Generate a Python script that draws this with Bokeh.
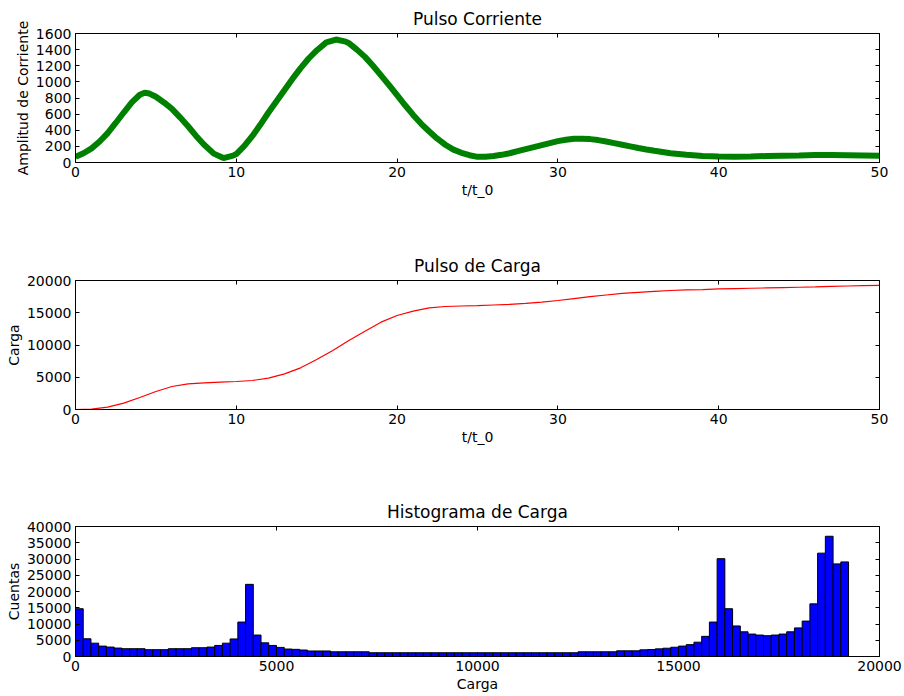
import numpy as np
from bokeh.plotting import figure
from bokeh.layouts import column
from bokeh.models import Range1d, FixedTicker, LinearAxis, CustomJSTickFormatter
from bokeh.embed import file_html
from bokeh.resources import INLINE

# ---- data ----
t_current = [0, 0.5, 1, 1.5, 2, 2.5, 3, 3.5, 4, 4.3, 4.6, 5, 5.5, 6, 6.5, 7, 7.5, 8, 8.6, 9.2, 9.8,
             10, 10.5, 11, 11.5, 12, 12.5, 13, 13.5, 14, 14.5, 15, 15.6, 16.2, 16.8, 17, 17.5, 18,
             18.5, 19, 19.5, 20, 20.5, 21, 21.5, 22, 22.5, 23, 23.5, 24, 24.5, 25, 25.5, 26, 26.5,
             27, 27.5, 28, 28.5, 29, 29.5, 30, 30.5, 31, 31.5, 32, 32.5, 33, 33.5, 34, 34.5, 35,
             35.5, 36, 36.5, 37, 38, 39, 40, 41, 42, 43, 44, 45, 46, 47, 48, 49, 50]
current = [70, 115, 175, 260, 365, 490, 620, 745, 840, 865, 855, 815, 745, 665, 560, 450, 330, 220, 110, 55, 85,
           105, 205, 330, 470, 620, 760, 900, 1040, 1170, 1290, 1390, 1490, 1525, 1500, 1480, 1400, 1310,
           1200, 1080, 960, 835, 710, 590, 480, 385, 295, 220, 160, 120, 90, 70, 72, 80, 95,
           115, 140, 165, 190, 215, 240, 265, 282, 295, 296, 290, 278, 260, 240, 220, 200, 180,
           162, 145, 130, 115, 95, 80, 75, 72, 75, 80, 85, 88, 92, 92, 90, 88, 85]

t_charge = [0, 1, 2, 3, 4, 5, 6, 7, 8, 9, 10, 11, 12, 13, 14, 15, 16, 17, 18, 19, 20, 21, 22, 23, 24, 25,
            26, 27, 28, 29, 30, 31, 32, 33, 34, 35, 36, 37, 38, 39, 40, 41, 42, 43, 44, 45, 46, 47, 48, 49, 50]
charge = [0, 50, 360, 980, 1860, 2790, 3570, 3980, 4130, 4240, 4340, 4500, 4860, 5530, 6460, 7750, 9150,
          10700, 12140, 13540, 14570, 15250, 15760, 15970, 16050, 16100, 16200, 16300, 16450, 16650, 16900,
          17200, 17500, 17750, 18000, 18150, 18300, 18450, 18550, 18600, 18700, 18750, 18800, 18850, 18900,
          18950, 19000, 19100, 19150, 19200, 19230]

hist_counts = [14700, 5450, 4100, 3200, 2900, 2600, 2400, 2400, 2400, 2100,
               2100, 2100, 2400, 2400, 2400, 2700, 2700, 2900, 3400, 4100,
               5400, 10600, 22200, 6600, 4200, 3400, 2800, 2300, 2200, 2000,
               1700, 1700, 1700, 1450, 1450, 1450, 1450, 1450, 1150, 1150,
               1150, 1150, 1150, 1150, 1150, 1150, 1150, 1150, 1150, 1150,
               1150, 1150, 1150, 1150, 1150, 1150, 1150, 1150, 1150, 1150,
               1150, 1150, 1150, 1150, 1150, 1450, 1450, 1450, 1450, 1450,
               1750, 1750, 1750, 2050, 2150, 2350, 2550, 2850, 3200, 3650,
               4400, 6200, 10600, 30100, 14700, 9400, 7600, 6900, 6600, 6400,
               6600, 6900, 7600, 8800, 10900, 16200, 31800, 37000, 28500, 29100]
hist_min, hist_max = 0.0, 19230.0

x_ticks_t = [0, 10, 20, 30, 40, 50]
y_ticks_cur = [0, 200, 400, 600, 800, 1000, 1200, 1400, 1600]
y_ticks_chg = [0, 5000, 10000, 15000, 20000]
x_ticks_hist = [0, 5000, 10000, 15000, 20000]
y_ticks_hist = [0, 5000, 10000, 15000, 20000, 25000, 30000, 35000, 40000]

FONT = "DejaVu Sans"


def make_fig(height, top, bottom, title, xr, yr):
    p = figure(width=904, height=height, output_backend="svg", toolbar_location=None,
               x_range=Range1d(*xr), y_range=Range1d(*yr),
               min_border_left=75, min_border_right=25, min_border_top=top,
               min_border_bottom=bottom, title=title)
    p.background_fill_color = "white"
    p.border_fill_color = "white"
    p.outline_line_color = "black"
    p.outline_line_alpha = 1
    p.outline_line_width = 1
    p.xgrid.grid_line_color = None
    p.ygrid.grid_line_color = None
    p.title.text_font = FONT
    p.title.text_font_size = "17px"
    p.title.text_font_style = "normal"
    p.title.align = "center"
    p.title.text_color = "black"
    return p


def style_axes(p, xticks, yticks, xlabel, ylabel):
    for ax, ticks, lab in ((p.xaxis[0], xticks, xlabel), (p.yaxis[0], yticks, ylabel)):
        ax.ticker = FixedTicker(ticks=ticks)
        ax.major_tick_in = 4
        ax.major_tick_out = 0
        ax.major_tick_line_color = "black"
        ax.minor_tick_line_color = None
        ax.axis_line_color = "black"
        ax.major_label_text_font = FONT
        ax.major_label_text_font_size = "14px"
        ax.major_label_text_color = "black"
        ax.major_label_standoff = 4
        ax.axis_label = lab
        ax.axis_label_text_font = FONT
        ax.axis_label_text_font_size = "14px"
        ax.axis_label_text_font_style = "normal"
        ax.axis_label_text_color = "black"
        ax.axis_label_standoff = 2
    for ticks, side in ((xticks, "above"), (yticks, "right")):
        ax = LinearAxis(ticker=FixedTicker(ticks=ticks),
                        formatter=CustomJSTickFormatter(code="return ''"))
        ax.major_tick_in = 4
        ax.major_tick_out = 0
        ax.major_tick_line_color = "black"
        ax.minor_tick_line_color = None
        ax.axis_line_color = None
        ax.major_label_text_font_size = "1px"
        ax.major_label_standoff = 0
        p.add_layout(ax, side)


# ---- top: current pulse ----
p1 = make_fig(240, 33, 78, "Pulso Corriente", (0, 50), (0, 1600))
p1.line(t_current, current, line_color="#008000", line_width=6)
style_axes(p1, x_ticks_t, y_ticks_cur, "t/t_0", "Amplitud de Corriente")

# ---- middle: charge pulse ----
p2 = make_fig(246, 40, 77, "Pulso de Carga", (0, 50), (0, 20000))
p2.line(t_charge, charge, line_color="#ff0000", line_width=1.2)
style_axes(p2, x_ticks_t, y_ticks_chg, "t/t_0", "Carga")

# ---- bottom: histogram ----
edges = np.linspace(hist_min, hist_max, len(hist_counts) + 1)
p3 = make_fig(210, 40, 40, "Histograma de Carga", (0, 20000), (0, 40000))
p3.quad(left=edges[:-1], right=edges[1:], top=hist_counts, bottom=0,
        fill_color="#0000ff", line_color="black", line_width=1)
style_axes(p3, x_ticks_hist, y_ticks_hist, "Carga", "Cuentas")

layout = column(p1, p2, p3, spacing=0)
open("out.html", "w").write(file_html(layout, INLINE))
